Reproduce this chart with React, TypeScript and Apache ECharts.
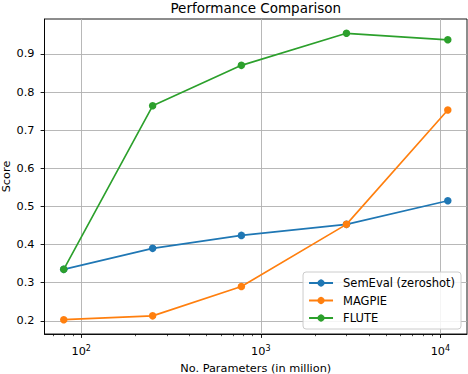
import React, { useEffect, useRef } from "react";
import * as echarts from "echarts";

const params = [80, 250, 780, 3000, 11000];
const semEval = [0.335, 0.39, 0.424, 0.453, 0.515];
const magpie = [0.203, 0.213, 0.29, 0.453, 0.753];
const flute = [0.335, 0.764, 0.87, 0.954, 0.937];
const seriesNames = ["SemEval (zeroshot)", "MAGPIE", "FLUTE"];
const seriesValues = [semEval, magpie, flute];
const colors = ["#1f77b4", "#ff7f0e", "#2ca02c"];
const xMajorTicks = [100, 1000, 10000];
const xMinorTicks = [70, 80, 90, 200, 300, 400, 500, 600, 700, 800, 900, 2000, 3000, 4000, 5000, 6000, 7000, 8000, 9000];
const yTicks = [0.2, 0.3, 0.4, 0.5, 0.6, 0.7, 0.8, 0.9];
const xRange = [62.5, 14070];
const yRange = [0.1654, 0.9916];

const FONT = "DejaVu Sans";
const lg = (v: number) => Math.log10(v);

export default function App() {
  const ref = useRef<HTMLDivElement>(null);
  useEffect(() => {
    if (!ref.current) return;
    const chart = echarts.init(ref.current, undefined, { renderer: "svg" });
    const xMin = lg(xRange[0]);
    const xMax = lg(xRange[1]);
    const option: any = {
      animation: false,
      backgroundColor: "#ffffff",
      textStyle: { fontFamily: FONT },
      title: {
        text: "Performance Comparison",
        left: 255.75,
        top: 0.5,
        padding: 0,
        textAlign: "center",
        textStyle: { fontFamily: FONT, fontSize: 13.5, fontWeight: "normal", color: "#000" },
      },
      grid: {
        left: 44.5,
        right: 1,
        top: 19,
        bottom: 40,
        show: true,
        borderColor: "#000",
        borderWidth: 0.9,
        backgroundColor: "#fff",
        containLabel: false,
        outerBoundsMode: "none",
      },
      legend: {
        orient: "vertical",
        right: 7,
        top: 272,
        padding: [4, 6, 4, 5],
        backgroundColor: "rgba(255,255,255,0.85)",
        borderColor: "#cccccc",
        borderWidth: 1,
        borderRadius: 3,
        itemWidth: 24,
        itemHeight: 9,
        itemGap: 3.5,
        data: seriesNames,
        textStyle: { fontFamily: FONT, fontSize: 11.5, color: "#000", lineHeight: 14, padding: [0, 0, 0, 5] },
      },
      xAxis: [
        {
          type: "value",
          min: xMin,
          max: xMax,
          name: "No. Parameters (in million)",
          nameLocation: "middle",
          nameGap: 28.5,
          nameMoveOverlap: false,
          nameTextStyle: { fontFamily: FONT, fontSize: 11.3, color: "#000" },
          axisLine: { show: true, lineStyle: { color: "#000", width: 0.9 } },
          axisTick: { show: true, inside: false, length: 3.9, customValues: xMajorTicks.map(lg), lineStyle: { color: "#000", width: 0.9 } },
          axisLabel: {
            show: true,
            margin: 10,
            customValues: xMajorTicks.map(lg),
            formatter: (v: number) => "{b|10}{s|" + Math.round(v) + "}",
            rich: {
              b: { fontFamily: FONT, fontSize: 11.3, color: "#000", lineHeight: 14 },
              s: { fontFamily: FONT, fontSize: 8, color: "#000", lineHeight: 9, verticalAlign: "top" },
            },
          },
          splitLine: { show: true, lineStyle: { color: "#b0b0b0", width: 0.9 } },
        },
        {
          type: "value",
          min: xMin,
          max: xMax,
          position: "bottom",
          axisLine: { show: false },
          axisTick: { show: true, inside: false, length: 2.2, customValues: xMinorTicks.map(lg), lineStyle: { color: "#000", width: 0.7 } },
          axisLabel: { show: false },
          splitLine: { show: false },
        },
      ],
      yAxis: {
        type: "value",
        min: yRange[0],
        max: yRange[1],
        name: "Score",
        nameLocation: "middle",
        nameRotate: 90,
        nameGap: 33,
        nameMoveOverlap: false,
        nameTextStyle: { fontFamily: FONT, fontSize: 11.3, color: "#000" },
        axisLine: { show: true, lineStyle: { color: "#000", width: 0.9 } },
        axisTick: { show: true, inside: false, length: 3.9, customValues: yTicks, lineStyle: { color: "#000", width: 0.9 } },
        axisLabel: {
          margin: 10,
          customValues: yTicks,
          formatter: (v: number) => v.toFixed(1),
          fontFamily: FONT,
          fontSize: 11.3,
          color: "#000",
        },
        splitLine: { show: true, lineStyle: { color: "#b0b0b0", width: 0.9 } },
      },
      series: seriesNames.map((name, i) => ({
        name,
        type: "line",
        xAxisIndex: 0,
        data: params.map((p, j) => [lg(p), seriesValues[i][j]]),
        symbol: "circle",
        symbolSize: 7.5,
        showSymbol: true,
        lineStyle: { color: colors[i], width: 1.65 },
        itemStyle: { color: colors[i] },
        z: 3 + i,
      })),
    };
    chart.setOption(option);
    return () => chart.dispose();
  }, []);
  return <div ref={ref} style={{ position: "absolute", left: 0, top: 0, width: 468, height: 374 }} />;
}
